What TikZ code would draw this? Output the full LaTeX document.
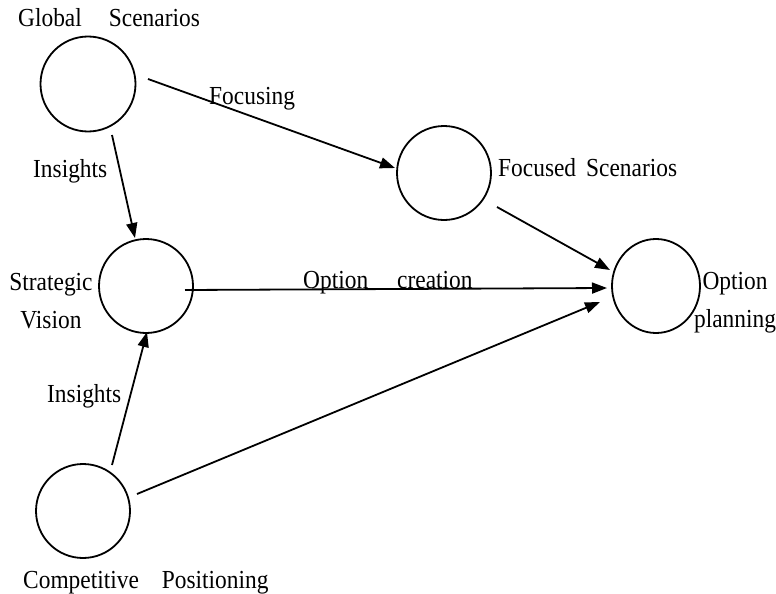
\documentclass[tikz,border=0pt]{standalone}
\usepackage{fontspec}
\setmainfont{Liberation Serif}[FakeStretch=0.9]
\usetikzlibrary{arrows.meta,calc,shapes.geometric}
\begin{document}
\begin{tikzpicture}[x=1pt,y=-1pt,
  ring/.style={draw,line width=1.8pt,circle,inner sep=0pt,minimum size=#1},
  oval/.style={draw,line width=1.8pt,ellipse,inner sep=0pt},
  arr/.style={line width=1.8pt,-{Triangle[length=15pt,width=11pt]}},
  lbl/.style={font=\fontsize{26}{38}\selectfont,inner sep=0pt}]
\useasboundingbox[fill=white] (0,0) rectangle (776,594);
% circles
\node[ring=95pt] (gs) at (88,84) {};
\node[ring=94pt] (sv) at (146,286) {};
\node[ring=94pt] (cp) at (83,511) {};
\node[ring=94pt] (fs) at (444,173) {};
\node[oval,minimum width=88pt,minimum height=94pt] (op) at (656,286) {};
% connectors
\draw[arr] ($(gs)+(60,-5)$) -- ($(fs)+(-49,-5)$);
\draw[arr] ($(gs)+(24,51)$) -- ($(sv)+(-11,-48)$);
\draw[arr] ($(cp)+(29,-46)$) -- ($(sv)+(1,46)$);
\draw[arr] ($(sv)+(39,4)$) -- ($(op)+(-49,2)$);
\draw[arr] ($(fs)+(53,34)$) -- ($(op)+(-46,-16)$);
\draw[arr] ($(cp)+(54,-17)$) -- ($(op)+(-56,16)$);
% labels
\node[lbl,anchor=base west] (tgs) at (18,27) {Global\hspace{27pt}Scenarios};
\node[lbl,anchor=base west] (tfoc) at (209,104) {Focusing};
\node[lbl,anchor=base west] (tin1) at (33,177) {Insights};
\node[lbl,anchor=base,align=center] (tsv) at (51,328) {Strategic\\Vision};
\node[lbl,anchor=base west] (toc) at (303,288) {Option\hspace{29pt}creation};
\node[lbl,anchor=base west] (tin2) at (47,402) {Insights};
\node[lbl,anchor=base west] (tcp) at (23,588) {Competitive\hspace{23pt}Positioning};
\node[lbl,anchor=base west] (tfs) at (498,176) {Focused\hspace{10pt}Scenarios};
\node[lbl,anchor=base,align=center] (top) at (735,327) {Option\\planning};
\end{tikzpicture}
\end{document}
